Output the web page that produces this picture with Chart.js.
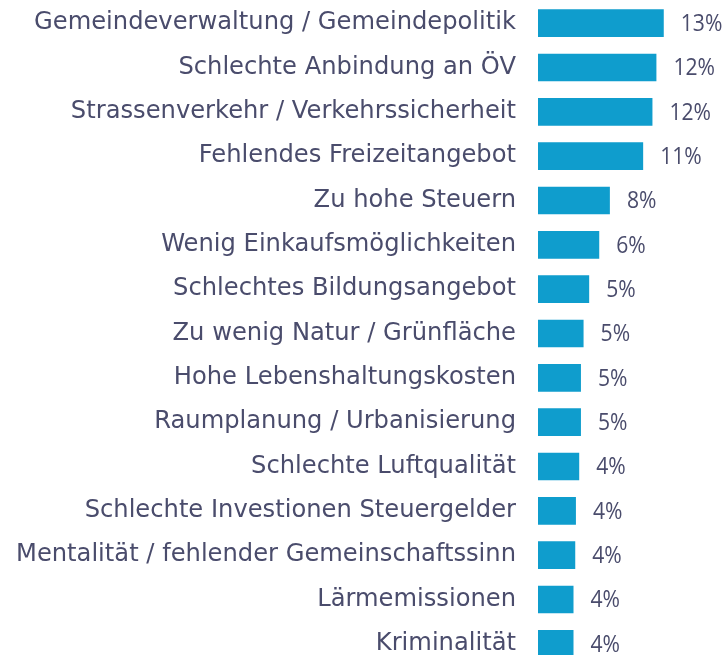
<!DOCTYPE html>
<html>
<head>
<meta charset="utf-8">
<script src="https://cdn.jsdelivr.net/npm/chart.js@4"></script>
<style>
  html, body { margin: 0; padding: 0; background: #ffffff; width: 725px; height: 655px; overflow: hidden; }
  #wrap { position: relative; width: 725px; height: 666px; }
</style>
</head>
<body>
<div id="wrap"><canvas id="c" width="725" height="666"></canvas></div>
<script>
const categories = [
  "Gemeindeverwaltung / Gemeindepolitik",
  "Schlechte Anbindung an ÖV",
  "Strassenverkehr / Verkehrssicherheit",
  "Fehlendes Freizeitangebot",
  "Zu hohe Steuern",
  "Wenig Einkaufsmöglichkeiten",
  "Schlechtes Bildungsangebot",
  "Zu wenig Natur / Grünfläche",
  "Hohe Lebenshaltungskosten",
  "Raumplanung / Urbanisierung",
  "Schlechte Luftqualität",
  "Schlechte Investionen Steuergelder",
  "Mentalität / fehlender Gemeinschaftssinn",
  "Lärmemissionen",
  "Kriminalität"
];
// estimated shares (bar lengths, in %)
const shares = [13.0, 12.24, 11.83, 10.87, 7.43, 6.33, 5.29, 4.71, 4.44, 4.44, 4.26, 3.92, 3.85, 3.67, 3.67];
// value labels as printed on the chart
const valueLabels = ["13%", "12%", "12%", "11%", "8%", "6%", "5%", "5%", "5%", "5%", "4%", "4%", "4%", "4%", "4%"];

const TEXT = "#4a4c6c";
const BAR = "#0f9dcd";
const FONT = "'DejaVu Sans', sans-serif";
const FONT_SIZE = 24.2;
const VALUE_FONT = "24px 'Open Sans', 'DejaVu Sans', sans-serif";
const VALUE_SQUEEZE = 0.88;

const valueLabelPlugin = {
  id: "valueLabels",
  afterDatasetsDraw(chart) {
    const ctx = chart.ctx;
    const meta = chart.getDatasetMeta(0);
    ctx.save();
    ctx.font = VALUE_FONT;
    ctx.fillStyle = TEXT;
    ctx.textAlign = "left";
    ctx.textBaseline = "middle";
    meta.data.forEach((bar, i) => {
      ctx.save();
      ctx.translate(bar.x + 17, bar.y + 1);
      ctx.scale(VALUE_SQUEEZE, 1);
      ctx.fillText(valueLabels[i], 0, 0);
      ctx.restore();
    });
    ctx.restore();
  }
};

new Chart(document.getElementById("c"), {
  type: "bar",
  data: {
    labels: categories,
    datasets: [{
      data: shares,
      backgroundColor: BAR,
      borderWidth: 0,
      categoryPercentage: 1.0,
      barPercentage: 0.625
    }]
  },
  options: {
    indexAxis: "y",
    responsive: false,
    animation: false,
    devicePixelRatio: 1,
    layout: { padding: { top: 1, right: 0, bottom: 0, left: 0 } },
    plugins: {
      legend: { display: false },
      tooltip: { enabled: false }
    },
    scales: {
      x: {
        display: false,
        min: 0,
        max: 19.33
      },
      y: {
        grid: { display: false, drawTicks: false },
        border: { display: false },
        ticks: {
          color: TEXT,
          font: { family: FONT, size: FONT_SIZE },
          padding: 22,
          autoSkip: false
        },
        afterFit(scale) {
          scale.width = 538;
          scale.paddingTop = 0;
          scale.paddingBottom = 0;
        }
      }
    }
  },
  plugins: [valueLabelPlugin]
});
</script>
</body>
</html>
